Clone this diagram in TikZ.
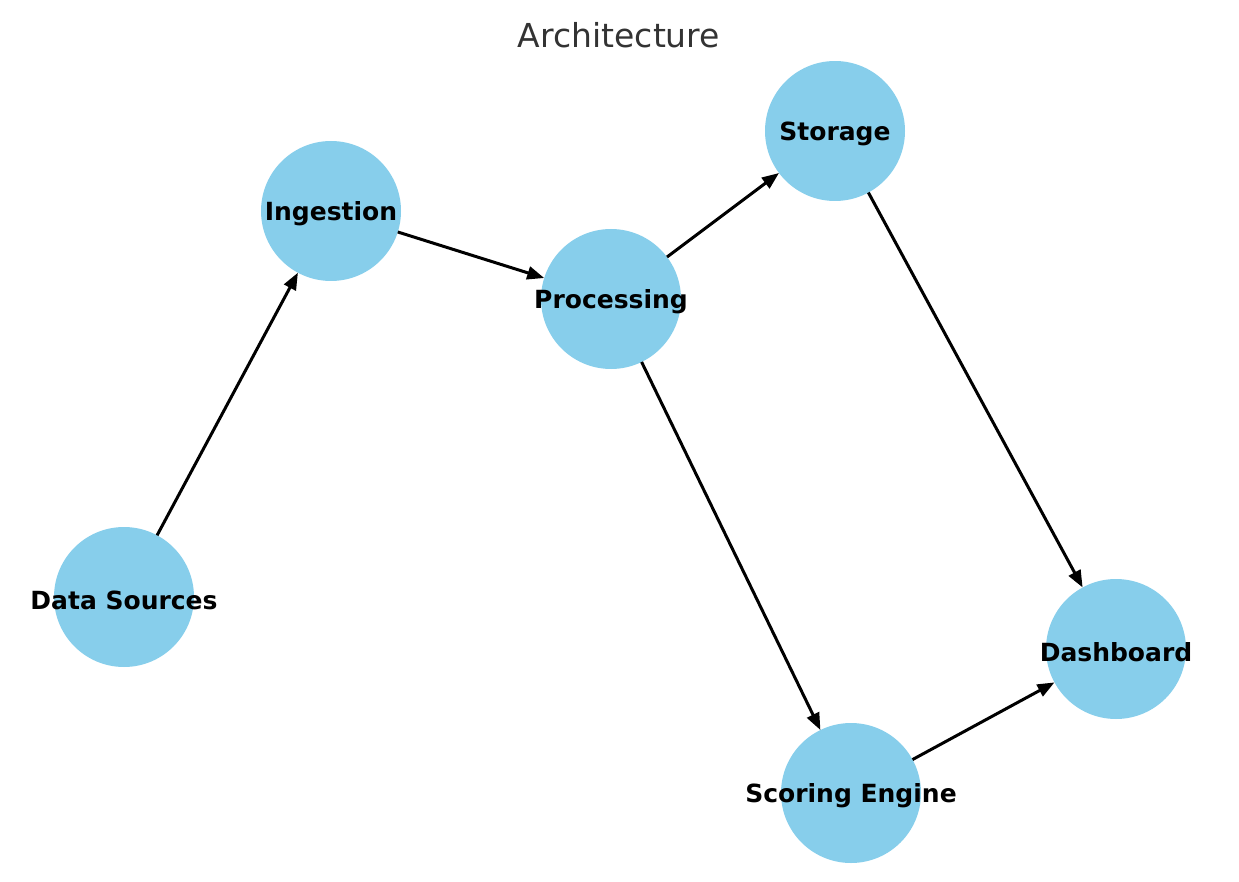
\documentclass[tikz,border=0pt]{standalone}
\usepackage{fontspec}
\setmainfont{DejaVu Sans}
\usetikzlibrary{arrows.meta}
\definecolor{nodeblue}{HTML}{87CEEB}
\definecolor{titlegray}{HTML}{333333}
\begin{document}
\begin{tikzpicture}[x=1pt,y=-1pt,
  circ/.style={circle,fill=nodeblue,minimum size=140pt,inner sep=0pt,outer sep=0pt},
  lbl/.style={font=\fontsize{25}{30}\selectfont\bfseries,text=black,inner sep=0pt,yshift=-3pt},
  conn/.style={-{Triangle[length=17pt,width=13pt]},line width=3pt,black}]
\useasboundingbox (0,0) rectangle (1239,882);
\begin{scope}
\clip (0,62) rectangle (1239,863);
\node[circ] (ds) at (124,597) {};
\node[circ] (ing) at (331,211) {};
\node[circ] (proc) at (611,299) {};
\node[circ] (stor) at (835,131) {};
\node[circ] (dash) at (1116,649) {};
\node[circ] (score) at (851,793) {};
\end{scope}
\draw[conn] (ds) -- (ing);
\draw[conn] (ing) -- (proc);
\draw[conn] (proc) -- (stor);
\draw[conn] (proc) -- (score);
\draw[conn] (stor) -- (dash);
\draw[conn] (score) -- (dash);
\node[lbl] (ds-t) at (ds) {Data Sources};
\node[lbl] (ing-t) at (ing) {Ingestion};
\node[lbl] (proc-t) at (proc) {Processing};
\node[lbl] (stor-t) at (stor) {Storage};
\node[lbl] (dash-t) at (dash) {Dashboard};
\node[lbl] (score-t) at (score) {Scoring Engine};
\node[font=\fontsize{33}{40}\selectfont,text=titlegray,inner sep=0pt] (title) at (619,35) {Architecture};
\end{tikzpicture}
\end{document}
